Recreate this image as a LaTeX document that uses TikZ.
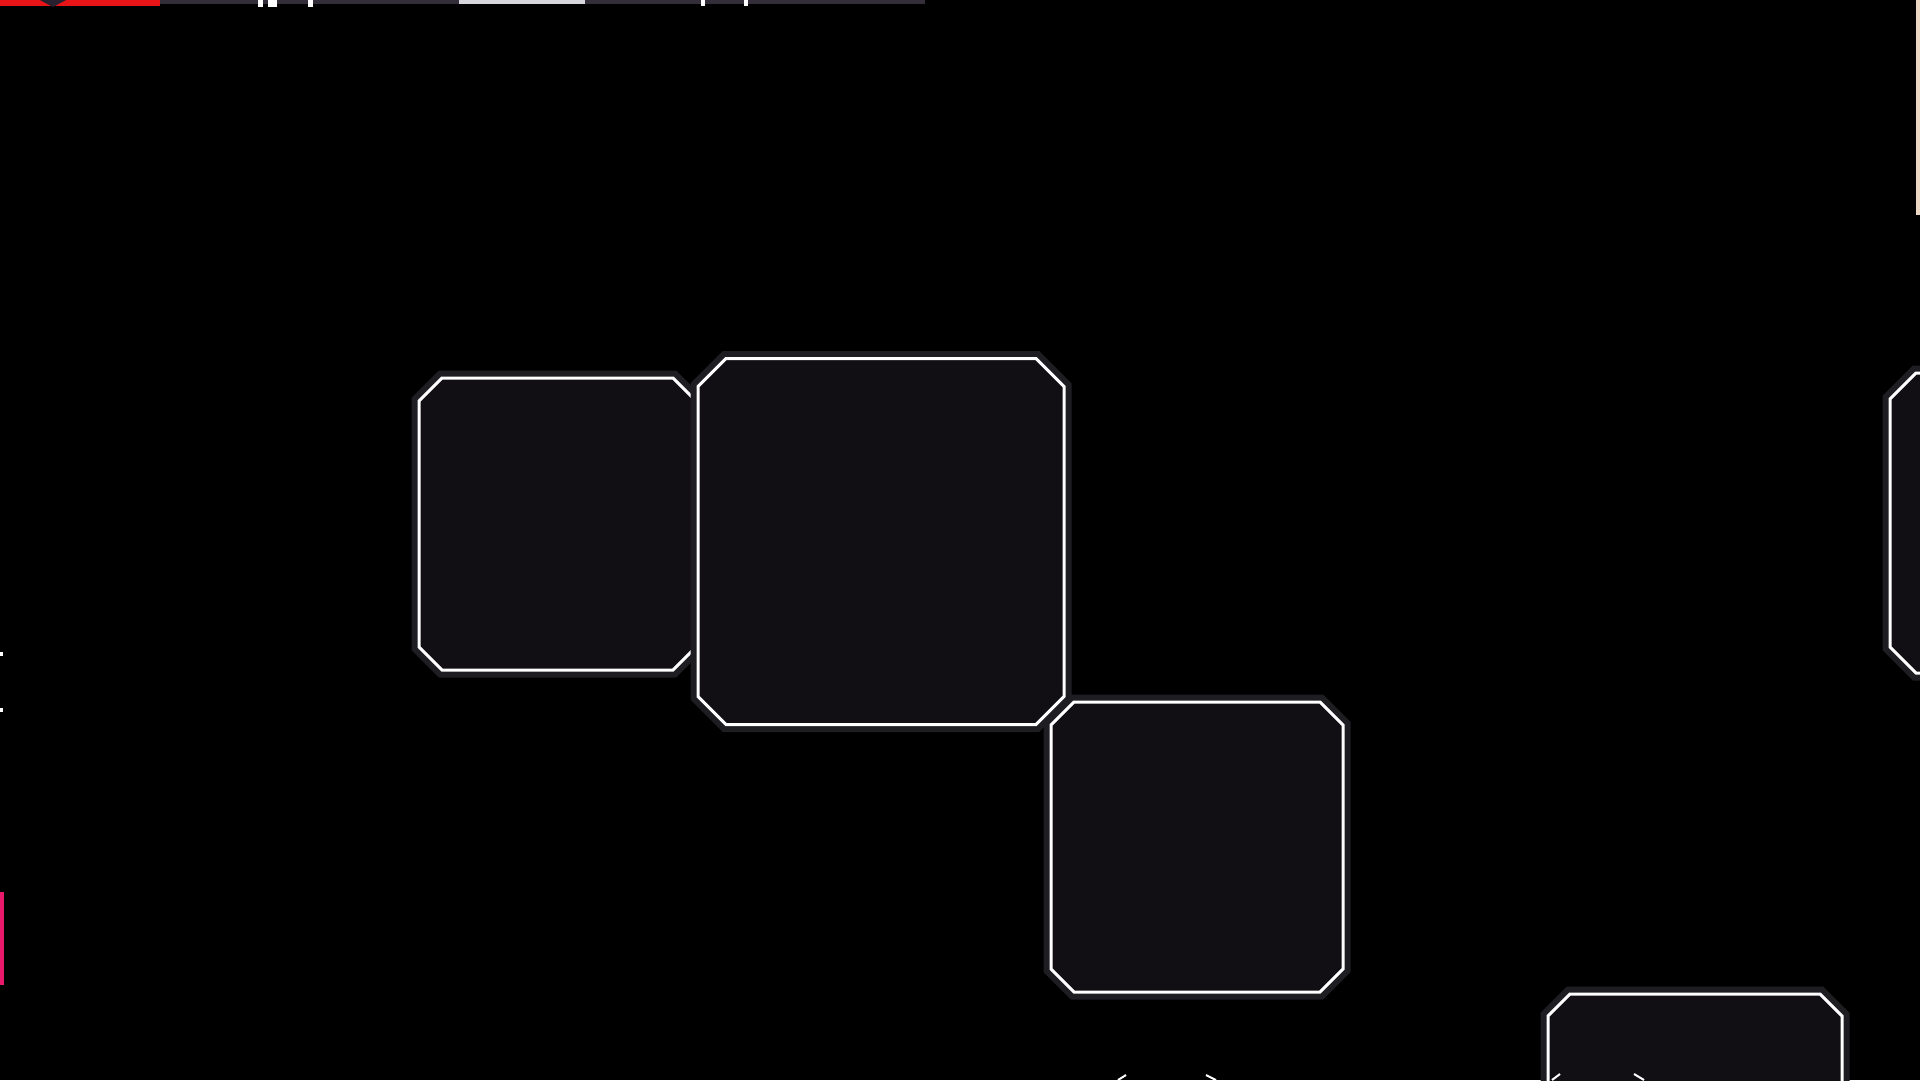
\documentclass[tikz,border=0pt]{standalone}
\usetikzlibrary{positioning,shapes}
\definecolor{tilefill}{RGB}{17,14,20}
\definecolor{tilehalo}{RGB}{30,29,34}
\definecolor{stripred}{RGB}{232,20,24}
\definecolor{stripgrey}{RGB}{52,46,58}
\definecolor{stripdark}{RGB}{40,32,46}
\definecolor{stripwhite}{RGB}{215,214,220}
\definecolor{edgepink}{RGB}{232,24,106}
\definecolor{edgelight}{RGB}{236,214,196}
% chamfered outline round a named node
\newcommand{\tileoutline}[2]{%
  \draw[tile] ([xshift=#2]#1.north west) -- ([xshift=-#2]#1.north east)
    -- ([yshift=-#2]#1.north east) -- ([yshift=#2]#1.south east)
    -- ([xshift=-#2]#1.south east) -- ([xshift=#2]#1.south west)
    -- ([yshift=#2]#1.south west) -- ([yshift=-#2]#1.north west) -- cycle;}
\begin{document}
\begin{tikzpicture}[%
        x=1pt,
        y=-1pt,
        spot/.style={%
          rectangle,
          inner sep=0pt,
          outer sep=0pt
        },
        tile/.style={%
          fill=tilefill,
          draw=white,
          line width=3pt,
          line join=miter,
          preaction={draw=tilehalo, line width=15pt}
        }
      ]
      \useasboundingbox (0,0) rectangle (1920,1080);
      \clip (0,0) rectangle (1920,1080);
      \fill[black] (0,0) rectangle (1920,1080);

      % strip along the top
      \fill[stripred] (0,0) rectangle (160,6);
      \fill[stripdark] (40,0) -- (66,0) -- (53,7) -- cycle;
      \fill[stripgrey] (160,0) rectangle (925,4);
      \fill[stripwhite] (459,0) rectangle (585,4);
      \fill[white] (258,0) rectangle (263,7);
      \fill[white] (268,0) rectangle (277,7);
      \fill[white] (308,0) rectangle (313,7);
      \fill[white] (701,0) rectangle (705,6);
      \fill[white] (744,0) rectangle (748,6);

      % marks on the edges
      \fill[edgepink] (0,892) rectangle (4,985);
      \fill[white] (0,652) rectangle (3,656);
      \fill[white] (0,708) rectangle (3,712);
      \fill[edgelight] (1916,0) rectangle (1920,215);
      \draw[white, line width=2pt] (1118,1080) -- (1126,1075);
      \draw[white, line width=2pt] (1206,1075) -- (1216,1080);

      \node[spot, minimum width=277pt, minimum height=292pt] (1) at (557.5,524) {};
      \tileoutline{1}{23pt}
      \node[spot, minimum width=366pt, minimum height=366pt] (2) at (881,541.5) {};
      \tileoutline{2}{28pt}
      \node[spot, minimum width=292pt, minimum height=290pt] (3) at (1197,847) {};
      \tileoutline{3}{23pt}
      \node[spot, minimum width=294pt, minimum height=290pt] (4) at (1695,1139) {};
      \tileoutline{4}{22pt}
      \node[spot, minimum width=292pt, minimum height=300pt] (5) at (2036,523) {};
      \tileoutline{5}{26pt}
      \draw[white, line width=2pt] (1552,1080) -- (1560,1074);
      \draw[white, line width=2pt] (1634,1074) -- (1644,1080);
    \end{tikzpicture}
\end{document}
